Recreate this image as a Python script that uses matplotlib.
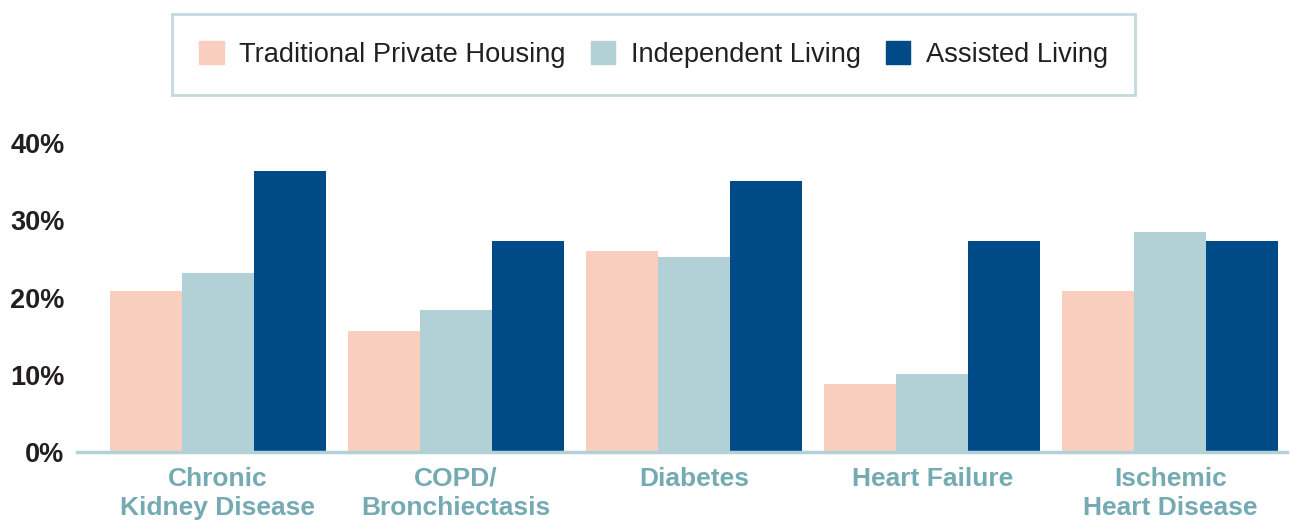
import matplotlib.pyplot as plt
import matplotlib.patches as mpatches
import numpy as np

plt.rcParams['font.family'] = ['Liberation Sans', 'DejaVu Sans']

categories = ['Chronic\nKidney Disease', 'COPD/\nBronchiectasis', 'Diabetes',
              'Heart Failure', 'Ischemic\nHeart Disease']
series_names = ['Traditional Private Housing', 'Independent Living', 'Assisted Living']
traditional = [20.8, 15.7, 26.0, 8.8, 20.8]
independent = [23.2, 18.4, 25.2, 10.1, 28.5]
assisted = [36.4, 27.3, 35.1, 27.3, 27.3]
yticks = [0, 10, 20, 30, 40]

colors = ['#f9cebf', '#b2d1d6', '#004b87']
label_color = '#74aab2'
text_color = '#231f20'

fig = plt.figure(figsize=(12.93, 5.21), dpi=100)
ax = fig.add_axes([77 / 1293, 1 - 452 / 521, 1210 / 1293, 309 / 521])

x = np.arange(len(categories))
width = 0.3025
for i, (vals, c) in enumerate(zip([traditional, independent, assisted], colors)):
    ax.bar(x + (i - 1) * width, vals, width, color=c, label=series_names[i])

ax.set_xlim(-0.592, 4.49)
ax.set_ylim(0, 40)
ax.set_yticks(yticks)
ax.set_yticklabels([f'{t}%' for t in yticks], fontsize=19.5, fontweight='bold',
                   color=text_color)
ax.set_xticks(x)
ax.set_xticklabels(categories, fontsize=19, fontweight='bold', color=label_color,
                   linespacing=1.27, va='top')
ax.tick_params(axis='both', length=0)
ax.tick_params(axis='x', pad=10.5)
ax.tick_params(axis='y', pad=9)

for side in ['top', 'right', 'left']:
    ax.spines[side].set_visible(False)
ax.spines['bottom'].set_color('#b2d1d6')
ax.spines['bottom'].set_linewidth(2.5)

handles = [mpatches.Patch(color=c) for c in colors]
leg = fig.legend(handles, series_names, loc='center',
                 bbox_to_anchor=(653.5 / 1293, 1 - 54.5 / 521),
                 ncol=3, frameon=True, fancybox=False, fontsize=19.6,
                 handlelength=0.9, handleheight=0.9, handletextpad=0.57,
                 columnspacing=0.92, borderpad=1.0, borderaxespad=0)
leg.get_frame().set_edgecolor('#b2d1d6')
leg.get_frame().set_linewidth(2)
for t in leg.get_texts():
    t.set_color(text_color)

fig.savefig('out.png', dpi=100)
